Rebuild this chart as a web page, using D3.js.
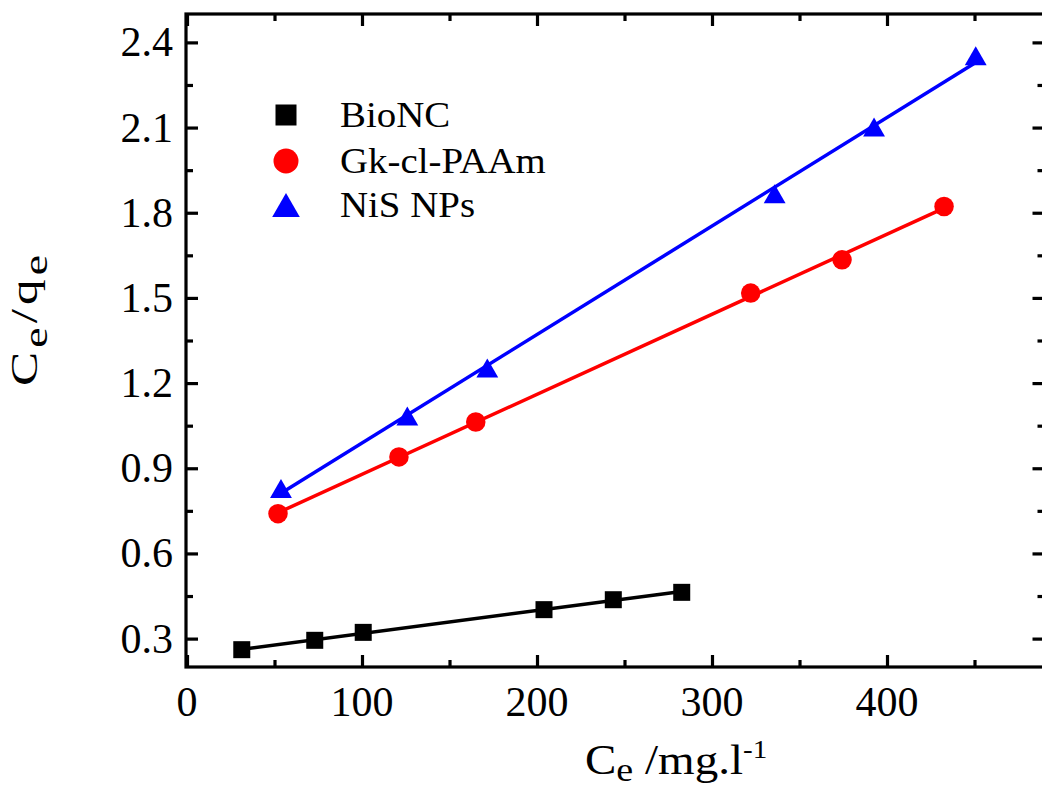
<!DOCTYPE html>
<html>
<head>
<meta charset="utf-8">
<script src="https://cdn.jsdelivr.net/npm/d3@7"></script>
<style>
html,body{margin:0;padding:0;background:#fff;}
svg{display:block;}
text{font-family:"Liberation Serif","Times New Roman",serif;fill:#000;}
</style>
</head>
<body>
<svg id="chart" width="1042" height="790"></svg>
<script>
// ---- data ----
const seriesNames = ["BioNC", "Gk-cl-PAAm", "NiS NPs"];
const seriesColors = ["#000000", "#ff0000", "#0000ff"];
const seriesSymbols = ["square", "circle", "triangle"];
const bioncX = [31.3, 73, 100.7, 204, 243.6, 282.7];
const bioncY = [0.261, 0.294, 0.322, 0.402, 0.437, 0.463];
const gkX = [52, 121.1, 165, 322.1, 374.3, 432.6];
const gkY = [0.740, 0.940, 1.063, 1.517, 1.634, 1.822];
const nisX = [53.7, 125.9, 171.6, 335.8, 392.6, 450.7];
const nisY = [0.829, 1.084, 1.253, 1.867, 2.102, 2.353];
const xMajorTicks = [0, 100, 200, 300, 400];
const xMinorTicks = [50, 150, 250, 350, 450];
const yMajorTicks = [0.3, 0.6, 0.9, 1.2, 1.5, 1.8, 2.1, 2.4];
const yMinorTicks = [0.45, 0.75, 1.05, 1.35, 1.65, 1.95, 2.25];
const xDomain = [0, 490];
const yDomain = [0.2, 2.5];

const seriesX = [bioncX, gkX, nisX];
const seriesY = [bioncY, gkY, nisY];

// ---- layout ----
const L = 186, R = 1044.5, T = 14, B = 667;
const svg = d3.select("#chart");
const x = d3.scaleLinear().domain(xDomain).range([L + 1, R]);
const y = d3.scaleLinear().domain(yDomain).range([B, T]);

// fit lines (least squares)
function fit(xs, ys) {
  const n = xs.length;
  const mx = d3.mean(xs), my = d3.mean(ys);
  let sxy = 0, sxx = 0;
  for (let i = 0; i < n; i++) { sxy += (xs[i]-mx)*(ys[i]-my); sxx += (xs[i]-mx)*(xs[i]-mx); }
  const b = sxy / sxx, a = my - b*mx;
  const x0 = d3.min(xs), x1 = d3.max(xs);
  return [[x0, a + b*x0], [x1, a + b*x1]];
}

const line = d3.line().x(d => x(d[0])).y(d => y(d[1]));
seriesNames.forEach((name, i) => {
  svg.append("path")
    .attr("d", line(fit(seriesX[i], seriesY[i])))
    .attr("fill", "none")
    .attr("stroke", seriesColors[i])
    .attr("stroke-width", 3.5);
});

function drawSymbol(g, type, cx, cy, size, color) {
  if (type === "square") {
    g.append("rect").attr("x", cx - size/2).attr("y", cy - size/2)
      .attr("width", size).attr("height", size).attr("fill", color);
  } else if (type === "circle") {
    g.append("circle").attr("cx", cx).attr("cy", cy).attr("r", size/2).attr("fill", color);
  } else {
    const w = size * 1.15, h = size;
    g.append("path")
      .attr("d", `M${cx},${cy - h/2}L${cx + w/2},${cy + h/2}L${cx - w/2},${cy + h/2}Z`)
      .attr("fill", color);
  }
}

const symSizes = [17, 19.5, 19];
seriesNames.forEach((name, i) => {
  const g = svg.append("g");
  seriesX[i].forEach((xv, j) => {
    drawSymbol(g, seriesSymbols[i], x(xv), y(seriesY[i][j]), symSizes[i], seriesColors[i]);
  });
});

// ---- axes (ticks inward, mirrored) ----
const majorLen = 12, minorLen = 7, axisW = 3.2;
const axB = svg.append("g").attr("transform", `translate(0,${B})`)
  .call(d3.axisTop(x).tickValues(xMajorTicks).tickSize(majorLen).tickFormat(""));
const axBm = svg.append("g").attr("transform", `translate(0,${B})`)
  .call(d3.axisTop(x).tickValues(xMinorTicks).tickSize(minorLen).tickFormat(""));
const axT = svg.append("g").attr("transform", `translate(0,${T})`)
  .call(d3.axisBottom(x).tickValues(xMajorTicks).tickSize(majorLen).tickFormat(""));
const axTm = svg.append("g").attr("transform", `translate(0,${T})`)
  .call(d3.axisBottom(x).tickValues(xMinorTicks).tickSize(minorLen).tickFormat(""));
const axL = svg.append("g").attr("transform", `translate(${L},0)`)
  .call(d3.axisRight(y).tickValues(yMajorTicks).tickSize(majorLen).tickFormat(""));
const axLm = svg.append("g").attr("transform", `translate(${L},0)`)
  .call(d3.axisRight(y).tickValues(yMinorTicks).tickSize(minorLen).tickFormat(""));
const axR = svg.append("g").attr("transform", `translate(${R},0)`)
  .call(d3.axisLeft(y).tickValues(yMajorTicks).tickSize(majorLen).tickFormat(""));
const axRm = svg.append("g").attr("transform", `translate(${R},0)`)
  .call(d3.axisLeft(y).tickValues(yMinorTicks).tickSize(minorLen).tickFormat(""));
[axB, axBm, axT, axTm, axL, axLm, axR, axRm].forEach(a => {
  a.select(".domain").remove();
  a.selectAll(".tick line").attr("stroke", "#000").attr("stroke-width", 3.2);
});

// frame
svg.append("rect").attr("x", L).attr("y", T).attr("width", R - L).attr("height", B - T)
  .attr("fill", "none").attr("stroke", "#000").attr("stroke-width", axisW);

// tick labels
svg.append("g").selectAll("text").data(xMajorTicks).join("text")
  .attr("x", d => x(d)).attr("y", 716).attr("text-anchor", "middle")
  .attr("font-size", 42).text(d => d);
svg.append("g").selectAll("text").data(yMajorTicks).join("text")
  .attr("x", 173).attr("y", d => y(d) + 14).attr("text-anchor", "end")
  .attr("font-size", 42).text(d => d.toFixed(1));

// axis titles
const xt = svg.append("text").attr("transform", "translate(585,774) scale(1.12,1)").attr("font-size", 42);
xt.append("tspan").text("C");
xt.append("tspan").attr("font-size", 34).attr("dy", 7).text("e");
xt.append("tspan").attr("dy", -7).text(" /mg.l");
xt.append("tspan").attr("font-size", 26).attr("dy", -16).text("-1");

const yt = svg.append("text").attr("transform", "translate(37,386) rotate(-90) scale(1.35,1)")
  .attr("font-size", 38).attr("letter-spacing", 3);
yt.append("tspan").text("C");
yt.append("tspan").attr("font-size", 34).attr("dy", 10).text("e");
yt.append("tspan").attr("dy", -10).text("/q");
yt.append("tspan").attr("font-size", 34).attr("dy", 10).text("e");

// legend
const legY = [115, 161, 205];
const legSizes = [21, 25, 24];
seriesNames.forEach((name, i) => {
  const g = svg.append("g");
  drawSymbol(g, seriesSymbols[i], 286, legY[i], legSizes[i], seriesColors[i]);
  g.append("text").attr("transform", `translate(340,${legY[i] + 12}) scale(1.08,1)`)
    .attr("font-size", 36).text(name);
});
</script>
</body>
</html>
